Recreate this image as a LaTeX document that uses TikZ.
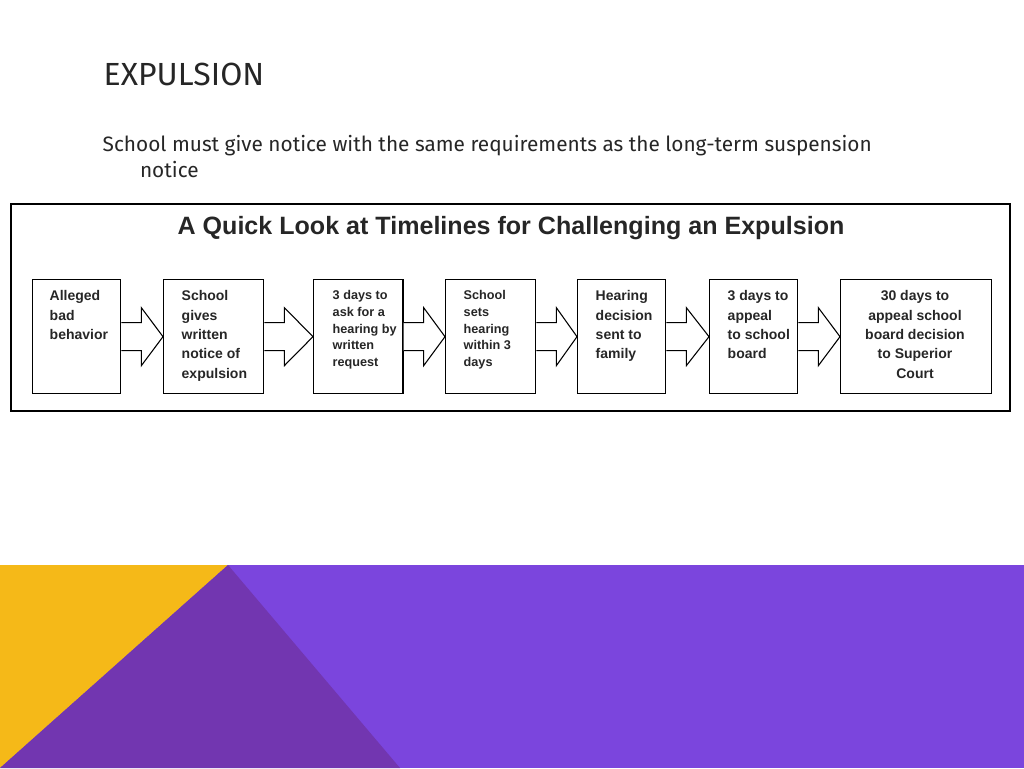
\documentclass[tikz,border=0pt]{standalone}
\usepackage{fontspec}
\setmainfont{Liberation Sans}
\newfontfamily\headfont{Fira Sans}
\usetikzlibrary{calc}
\definecolor{slidepurple}{HTML}{7B45DD}
\definecolor{darkpurple}{HTML}{7236B0}
\definecolor{slideyellow}{HTML}{F5B918}
\tikzset{
stepbox/.style={draw, line width=1pt, minimum height=85.5pt, anchor=north west, inner sep=0pt},
steptext/.style={align=left, anchor=north west, font=\bfseries\fontsize{10.5}{14.5}\selectfont, text=black!85},
}
\newcommand{\blockarrow}[2]{%
  \draw[line width=0.8pt, fill=white] ($(#1.east)+(0,-14)$) -- ($(#1.east)+(20,-14)$)
    -- ($(#1.east)+(20,-29)$) -- (#2.west) -- ($(#1.east)+(20,29)$)
    -- ($(#1.east)+(20,14)$) -- ($(#1.east)+(0,14)$);}
\begin{document}
\begin{tikzpicture}[x=0.75pt,y=-0.75pt]
    \useasboundingbox (0,0) rectangle (1024,768);
    % slide background
    \fill[slidepurple] (0,565) rectangle (1024,768);
    \fill[slideyellow] (0,565) -- (228,565) -- (0,768) -- cycle;
    \fill[darkpurple] (228,565) -- (400,768) -- (0,768) -- cycle;
    % heading
    \node[anchor=west, font=\headfont\fontsize{24}{28}\selectfont, text=black!85] (title) at (99,74) {EXPULSION};
    \node[anchor=north west, align=left, font=\headfont\fontsize{15.6}{20}\selectfont, text=black!85] (sub) at (98,131)
      {School must give notice with the same requirements as the long-term suspension\\[-1pt]\hspace*{28pt}notice};
    % figure frame
    \draw[line width=0.8pt] (11,204) rectangle (1010,411);
    \node[font=\bfseries\fontsize{18.8}{22}\selectfont, text=black!85] (head) at (511,228)
      {A Quick Look at Timelines for Challenging an Expulsion};
    % steps
    \node[stepbox, minimum width=66pt] (s1) at (32,279) {};
    \node[stepbox, minimum width=75pt] (s2) at (163,279) {};
    \node[stepbox, minimum width=67pt] (s3) at (313,279) {};
    \node[stepbox, minimum width=67.5pt] (s4) at (445,279) {};
    \node[stepbox, minimum width=66pt] (s5) at (577,279) {};
    \node[stepbox, minimum width=66pt] (s6) at (709,279) {};
    \node[stepbox, minimum width=113pt] (s7) at (840,279) {};
    \node[steptext] (t1) at (45,286) {Alleged\\bad\\behavior};
    \node[steptext] (t2) at (177,286) {School\\gives\\written\\notice of\\expulsion};
    \node[steptext, font=\bfseries\fontsize{9.5}{12.5}\selectfont] (t3) at (328,286) {3 days to\\ask for a\\hearing by\\written\\request};
    \node[steptext, font=\bfseries\fontsize{9.5}{12.5}\selectfont] (t4) at (459,286) {School\\sets\\hearing\\within 3\\days};
    \node[steptext] (t5) at (591,286) {Hearing\\decision\\sent to\\family};
    \node[steptext] (t6) at (723,286) {3 days to\\appeal\\to school\\board};
    \node[steptext, align=center, anchor=north] (t7) at (915,286) {30 days to\\appeal school\\board decision\\to Superior\\Court};
    \foreach \a/\b in {s1/s2,s2/s3,s3/s4,s4/s5,s5/s6,s6/s7}
      {\blockarrow{\a}{\b}}
\end{tikzpicture}
\end{document}
